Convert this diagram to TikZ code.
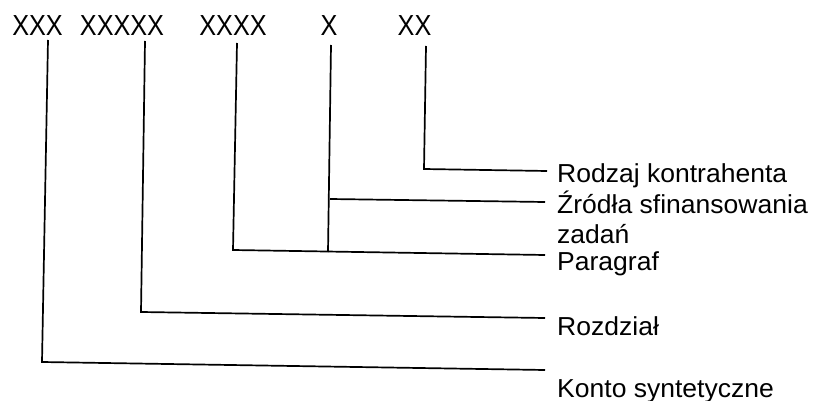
\documentclass[tikz,border=0pt]{standalone}
\usepackage{fontspec}
\setmainfont{Liberation Sans}
\begin{document}
\begin{tikzpicture}[x=1pt,y=-1pt,
  code/.style={inner sep=0pt,anchor=center,font=\fontsize{29}{30}\selectfont,xscale=0.87},
  lab/.style={inner sep=0pt,anchor=base west,font=\fontsize{26}{30}\selectfont,xscale=1.02},
  conn/.style={line width=1.7pt,line join=miter}]
\useasboundingbox[fill=white] (0,0) rectangle (813,401);
% top codes
\node[code] (c1) at (37.5,25.5) {XXX};
\node[code] (c2) at (122,25.5) {XXXXX};
\node[code] (c3) at (233,25.5) {XXXX};
\node[code] (c4) at (329,25.5) {X};
\node[code] (c5) at (414.5,25.5) {XX};
% labels
\node[lab] (l5) at (557,182) {Rodzaj kontrahenta};
\node[lab] (l4) at (557,213) {Źródła sfinansowania};
\node[lab] (l4b) at (557,243) {zadań};
\node[lab] (l3) at (557,270) {Paragraf};
\node[lab] (l2) at (557,335) {Rozdział};
\node[lab] (l1) at (557,397) {Konto syntetyczne};
% connector points
\coordinate (t1) at (48,40);  \coordinate (b1) at (42,362);  \coordinate (e1) at (545,370);
\coordinate (t2) at (145,41); \coordinate (b2) at (141,312); \coordinate (e2) at (545,318);
\coordinate (t3) at (237,43); \coordinate (b3) at (233,250); \coordinate (e3) at (545,255);
\coordinate (t4) at (331,45); \coordinate (b4) at (328,252); \coordinate (m4) at (330,199); \coordinate (e4) at (545,202);
\coordinate (t5) at (426,46); \coordinate (b5) at (424,169); \coordinate (e5) at (547,171);
% connectors
\draw[conn] (t1) -- (b1) -- (e1);
\draw[conn] (t2) -- (b2) -- (e2);
\draw[conn] (t3) -- (b3) -- (e3);
\draw[conn] (t4) -- (b4);
\draw[conn] (m4) -- (e4);
\draw[conn] (t5) -- (b5) -- (e5);
\end{tikzpicture}
\end{document}
